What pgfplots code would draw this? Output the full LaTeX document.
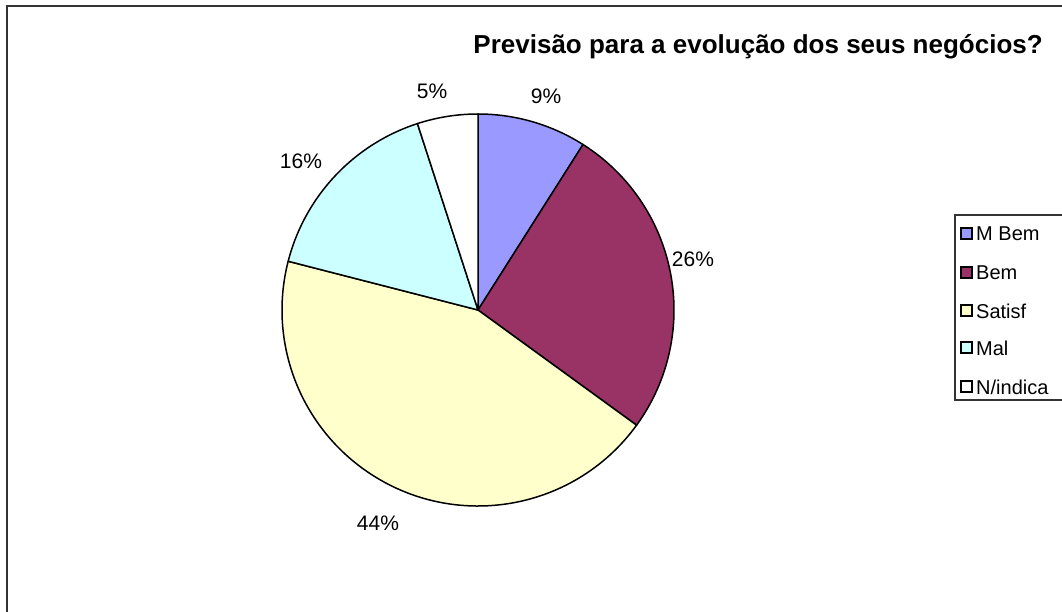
\documentclass[border=0pt]{standalone}
\usepackage{pgfplots}
\pgfplotsset{compat=1.18}
\usepackage{pgfplotstable}
\usepackage{fontspec}
\setmainfont{Liberation Sans}

\definecolor{cA}{HTML}{9999FF}
\definecolor{cB}{HTML}{993366}
\definecolor{cC}{HTML}{FFFFCC}
\definecolor{cD}{HTML}{CCFFFF}
\definecolor{cE}{HTML}{FFFFFF}

\pgfplotstableread{
name value
MBem 9
Bem 26
Satisf 44
Mal 16
Nindica 5
}\piedata

\pgfplotstablegetelem{0}{value}\of\piedata \let\va\pgfplotsretval
\pgfplotstablegetelem{1}{value}\of\piedata \let\vb\pgfplotsretval
\pgfplotstablegetelem{2}{value}\of\piedata \let\vc\pgfplotsretval
\pgfplotstablegetelem{3}{value}\of\piedata \let\vd\pgfplotsretval
\pgfplotstablegetelem{4}{value}\of\piedata \let\ve\pgfplotsretval
\pgfmathsetmacro\tot{\va+\vb+\vc+\vd+\ve}
\pgfmathsetmacro\aA{90}
\pgfmathsetmacro\aB{\aA-360*\va/\tot}
\pgfmathsetmacro\aC{\aB-360*\vb/\tot}
\pgfmathsetmacro\aD{\aC-360*\vc/\tot}
\pgfmathsetmacro\aE{\aD-360*\vd/\tot}
\pgfmathsetmacro\aF{\aE-360*\ve/\tot}

\begin{document}
\begin{tikzpicture}
\useasboundingbox (0,0) rectangle (1062pt,611pt);
\begin{axis}[
  at={(0pt,0pt)}, anchor=south west,
  scale only axis, width=1062pt, height=611pt,
  xmin=0, xmax=1062, ymin=0, ymax=611,
  hide axis, clip=false]
% frame
\draw[color=black!80, line width=2pt] (axis cs:6.5,-20) -- (axis cs:6.5,604.5) -- (axis cs:1100,604.5);
% pie
\def\cx{478}\def\cy{301}\def\R{196pt}
\filldraw[fill=cA, draw=black, line width=1.5pt, line join=round] (axis cs:\cx,\cy) -- ++(\aA:\R) arc[start angle=\aA, end angle=\aB, radius=\R] -- cycle;
\filldraw[fill=cB, draw=black, line width=1.5pt, line join=round] (axis cs:\cx,\cy) -- ++(\aB:\R) arc[start angle=\aB, end angle=\aC, radius=\R] -- cycle;
\filldraw[fill=cC, draw=black, line width=1.5pt, line join=round] (axis cs:\cx,\cy) -- ++(\aC:\R) arc[start angle=\aC, end angle=\aD, radius=\R] -- cycle;
\filldraw[fill=cD, draw=black, line width=1.5pt, line join=round] (axis cs:\cx,\cy) -- ++(\aD:\R) arc[start angle=\aD, end angle=\aE, radius=\R] -- cycle;
\filldraw[fill=cE, draw=black, line width=1.5pt, line join=round] (axis cs:\cx,\cy) -- ++(\aE:\R) arc[start angle=\aE, end angle=\aF, radius=\R] -- cycle;
% data labels
\tikzset{lab/.style={font=\fontsize{21}{25}\selectfont, inner sep=0pt, anchor=center}}
\node[lab] at (axis cs:546,515) {\va\%};
\node[lab] at (axis cs:693,352) {\vb\%};
\node[lab] at (axis cs:378,88) {\vc\%};
\node[lab] at (axis cs:301,450) {\vd\%};
\node[lab] at (axis cs:432,520) {\ve\%};
% title
\node[font=\fontsize{26}{31}\selectfont\bfseries, inner sep=0pt, anchor=east] at (axis cs:1043,564) {Previsão para a evolução dos seus negócios?};
% legend
\draw[color=black!80, line width=1.2pt, fill=white] (axis cs:1100,396) -- (axis cs:955,396) -- (axis cs:955,211) -- (axis cs:1100,211);
\tikzset{leg/.style={font=\fontsize{20}{24}\selectfont, inner sep=0pt, anchor=west},
  sq/.style={draw=black, line width=1.1pt}}
\filldraw[sq, fill=cA] (axis cs:961,372) rectangle (axis cs:972,383);
\node[leg] at (axis cs:976,377) {M Bem};
\filldraw[sq, fill=cB] (axis cs:961,333) rectangle (axis cs:972,344);
\node[leg] at (axis cs:976,338) {Bem};
\filldraw[sq, fill=cC] (axis cs:961,295) rectangle (axis cs:972,306);
\node[leg] at (axis cs:976,300) {Satisf};
\filldraw[sq, fill=cD] (axis cs:961,258) rectangle (axis cs:972,269);
\node[leg] at (axis cs:976,263) {Mal};
\filldraw[sq, fill=cE] (axis cs:961,219) rectangle (axis cs:972,230);
\node[leg] at (axis cs:976,224) {N/indica};
\end{axis}
\end{tikzpicture}
\end{document}
